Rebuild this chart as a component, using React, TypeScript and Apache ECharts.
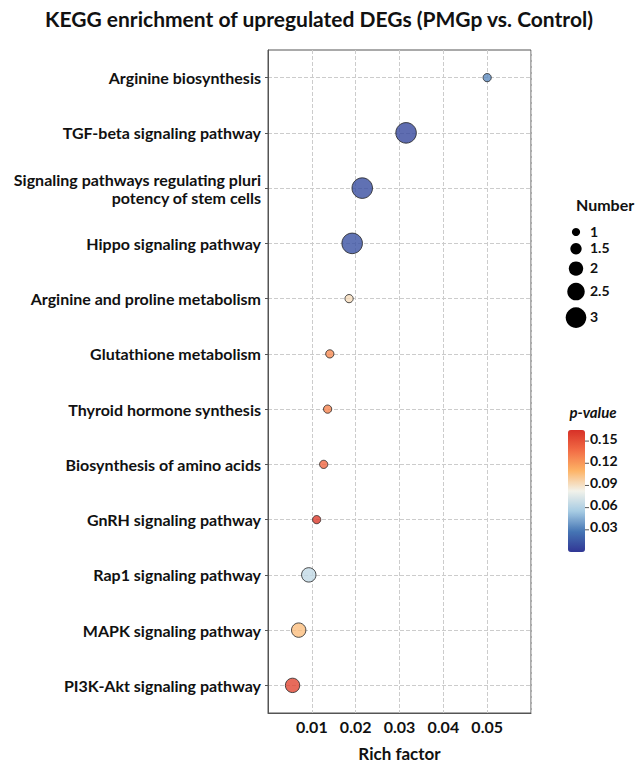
import React, { useEffect, useRef } from "react";
import * as echarts from "echarts";

const categories = [
  "Arginine biosynthesis",
  "TGF-beta signaling pathway",
  "Signaling pathways regulating pluri\npotency of stem cells",
  "Hippo signaling pathway",
  "Arginine and proline metabolism",
  "Glutathione metabolism",
  "Thyroid hormone synthesis",
  "Biosynthesis of amino acids",
  "GnRH signaling pathway",
  "Rap1 signaling pathway",
  "MAPK signaling pathway",
  "PI3K-Akt signaling pathway",
];
const richFactor = [0.05, 0.0315, 0.0215, 0.0192, 0.0185, 0.0141, 0.0136, 0.0127, 0.0111, 0.0093, 0.007, 0.0056];
const geneCount = [1, 3, 3, 3, 1, 1, 1, 1, 1, 2, 2, 2];
const pValue = [0.035, 0.008, 0.01, 0.012, 0.092, 0.125, 0.128, 0.14, 0.16, 0.065, 0.105, 0.155];
const sizeLegendValues = [1, 1.5, 2, 2.5, 3];
const pTicks = [0.03, 0.06, 0.09, 0.12, 0.15];
const pMin = 0;
const pMax = 0.165;
const colorStops = ["#313695", "#4575b4", "#a6cbe3", "#f2f2ea", "#fdb366", "#f26c45", "#d73027"];

const FONT = "Lato";
const sizeOf = (n: number) => 2 + 6.2 * n;

export default function App() {
  const ref = useRef<HTMLDivElement>(null);
  useEffect(() => {
    if (!ref.current) return;
    const chart = echarts.init(ref.current, null, { renderer: "svg" });

    const graphics: any[] = [];
    graphics.push({
      type: "text",
      left: 576,
      top: 196,
      style: { text: "Number", font: `bold 16px ${FONT}`, fill: "#111" },
    });
    let cy = 232;
    sizeLegendValues.forEach((v, i) => {
      const r = sizeOf(v) / 2;
      if (i > 0) cy += sizeOf(sizeLegendValues[i - 1]) / 2 + r + 7;
      graphics.push({ type: "circle", shape: { cx: 576, cy, r }, style: { fill: "#000" } });
      graphics.push({
        type: "text",
        x: 590,
        y: cy - 1,
        style: { text: String(v), font: `bold 14px ${FONT}`, fill: "#111", textVerticalAlign: "middle" },
      });
    });

    const barTop = 430;
    const barH = 122;
    const barLeft = 568;
    const barW = 17;
    graphics.push({
      type: "text",
      x: barLeft + 25,
      y: 412,
      style: { text: "p-value", font: `italic bold 15px ${FONT}`, fill: "#111", textAlign: "center", textVerticalAlign: "middle" },
    });
    pTicks.forEach((t) => {
      const y = barTop + barH - ((t - pMin) / (pMax - pMin)) * barH;
      graphics.push({ type: "line", shape: { x1: barLeft + barW, y1: y, x2: barLeft + barW + 4, y2: y }, style: { stroke: "#555", lineWidth: 1 } });
      graphics.push({
        type: "text",
        x: barLeft + barW + 5,
        y: y - 3,
        style: { text: t.toFixed(2), font: `bold 14px ${FONT}`, fill: "#111", textVerticalAlign: "middle" },
      });
    });

    const data = categories.map((c, i) => [richFactor[i], c, geneCount[i], pValue[i]]);

    chart.setOption({
      animation: false,
      backgroundColor: "#fff",
      title: {
        text: "KEGG enrichment of upregulated DEGs (PMGp vs. Control)",
        left: "center",
        top: 3,
        textStyle: { fontFamily: FONT, fontWeight: "bold", fontSize: 21, color: "#111" },
      },
      grid: {
        left: 268,
        right: 107,
        top: 50,
        bottom: 50,
        containLabel: false,
        outerBoundsMode: "none",
        show: true,
        borderColor: "#555",
        borderWidth: 1,
        backgroundColor: "#fff",
      },
      xAxis: {
        type: "value",
        min: 0,
        max: 0.06,
        interval: 0.01,
        name: "Rich factor",
        nameLocation: "middle",
        nameGap: 32,
        nameTextStyle: { fontFamily: FONT, fontWeight: "bold", fontSize: 17, color: "#111" },
        axisLine: { show: true, lineStyle: { color: "#555" } },
        axisTick: { show: false },
        axisLabel: {
          showMinLabel: false,
          showMaxLabel: false,
          formatter: (v: number) => v.toFixed(2),
          fontFamily: FONT,
          fontWeight: "bold",
          fontSize: 16,
          color: "#111",
          margin: 5,
        },
        splitLine: { show: true, lineStyle: { color: "#cccccc", type: "dashed" } },
      },
      yAxis: {
        type: "category",
        inverse: true,
        data: categories,
        boundaryGap: true,
        axisLine: { show: true, lineStyle: { color: "#555" } },
        axisTick: { show: true, alignWithLabel: true, length: 3, lineStyle: { color: "#555" } },
        axisLabel: {
          fontFamily: FONT,
          fontWeight: "bold",
          fontSize: 16,
          color: "#111",
          margin: 7,
          lineHeight: 18,
          align: "right",
        },
        splitLine: { show: true, alignWithLabel: true, lineStyle: { color: "#cccccc", type: "dashed" } },
      },
      visualMap: {
        type: "continuous",
        dimension: 3,
        seriesIndex: 0,
        min: pMin,
        max: pMax,
        calculable: false,
        left: barLeft,
        top: barTop,
        padding: 0,
        itemWidth: barW,
        itemHeight: barH,
        text: null,
        showLabel: false,
        inRange: { color: colorStops },
      },
      series: [
        {
          type: "scatter",
          data,
          symbolSize: (val: any[]) => sizeOf(val[2]),
          itemStyle: { borderColor: "#222", borderWidth: 1 },
          z: 5,
        },
      ],
      graphic: graphics,
    });
    return () => chart.dispose();
  }, []);
  return <div ref={ref} style={{ position: "fixed", left: 0, top: 0, width: 638, height: 763 }} />;
}
